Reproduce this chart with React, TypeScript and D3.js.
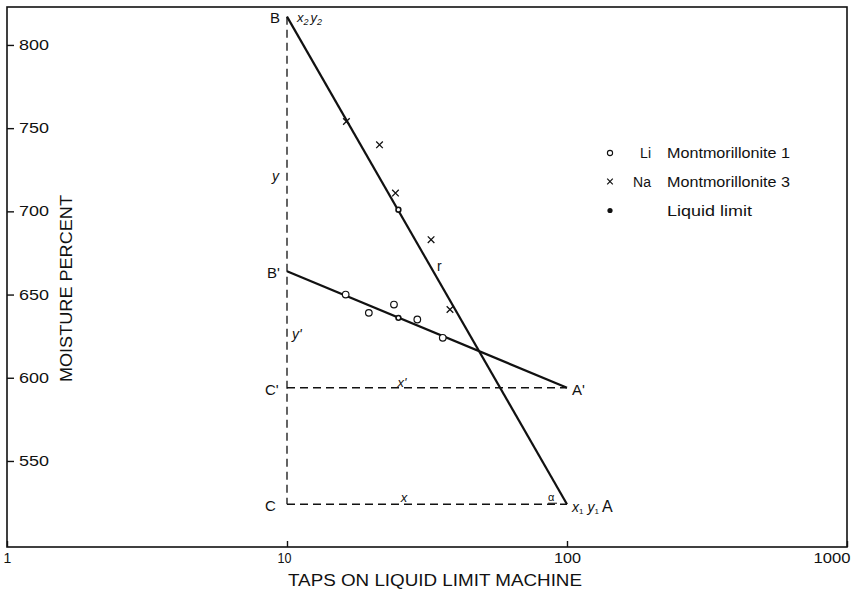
import React, { useEffect, useRef } from "react";
import * as d3 from "d3";

const W = 855;
const H = 592;

const xTicks = [1, 10, 100, 1000];
const yTicks = [550, 600, 650, 700, 750, 800];

// Li Montmorillonite 1 (open circles)
const liTaps = [16.2, 19.6, 24.1, 29.2, 36.0];
const liMoisture = [650, 639, 644, 635, 624];

// Na Montmorillonite 3 (crosses)
const naTaps = [16.3, 21.4, 24.4, 32.7, 38.2];
const naMoisture = [754, 740, 711, 683, 641];

// Liquid limit points (25 taps)
const liquidLimitTaps = [25, 25];
const liquidLimitMoisture = [701, 636];

// Flow lines
const naFlowTaps = [10, 100];
const naFlowMoisture = [817, 524];
const liFlowTaps = [10, 100];
const liFlowMoisture = [664, 594];

const legendSymbols = ["circle", "cross", "dot"];
const legendIons = ["Li", "Na", ""];
const legendNames = ["Montmorillonite 1", "Montmorillonite 3", "Liquid limit"];

const FONT = "'Liberation Sans', Arial, sans-serif";

export default function App() {
  const ref = useRef<SVGSVGElement>(null);

  useEffect(() => {
    const svg = d3.select(ref.current);
    svg.selectAll("*").remove();

    const x = d3.scaleLog().domain([1, 1000]).range([7, 847]);
    const y = d3.scaleLinear().domain([498.3, 822.8]).range([547, 7]);

    svg.append("rect").attr("width", W).attr("height", H).attr("fill", "white");

    // frame
    svg
      .append("rect")
      .attr("x", x(1))
      .attr("y", y(822.8))
      .attr("width", x(1000) - x(1))
      .attr("height", y(498.3) - y(822.8))
      .attr("fill", "none")
      .attr("stroke", "#111")
      .attr("stroke-width", 1.6);

    // y axis
    const yAxis = svg
      .append("g")
      .attr("transform", `translate(${x(1)},0)`)
      .call(d3.axisRight(y).tickValues(yTicks).tickSize(7).tickPadding(5).tickFormat(d3.format("d")));
    yAxis.select(".domain").remove();
    yAxis.selectAll("line").attr("stroke", "#111").attr("stroke-width", 1.4);
    yAxis
      .selectAll("text")
      .attr("font-family", FONT)
      .attr("font-size", 14)
      .attr("fill", "#111")
      .attr("textLength", 30)
      .attr("lengthAdjust", "spacingAndGlyphs");

    // x axis
    const xAxis = svg
      .append("g")
      .attr("transform", `translate(0,${y(498.3)})`)
      .call(d3.axisBottom(x).tickValues(xTicks).tickSize(-6).tickPadding(6).tickFormat(d3.format("d")));
    xAxis.select(".domain").remove();
    xAxis.selectAll("line").attr("stroke", "#111").attr("stroke-width", 1.4);
    xAxis
      .selectAll("text")
      .attr("font-family", FONT)
      .attr("font-size", 14)
      .attr("fill", "#111")
      .attr("text-anchor", (d: any) => (d === 1000 ? "end" : "middle"))
      .attr("dx", (d: any) => (d === 1000 ? 3 : d === 10 ? -3 : 0))
      .attr("textLength", (d: any) => (d === 1000 ? 37 : d === 100 ? 27 : d === 10 ? 14 : null))
      .attr("lengthAdjust", "spacingAndGlyphs");

    // axis titles
    svg
      .append("text")
      .attr("x", (x(10) + x(100)) / 2 + 8)
      .attr("y", 586)
      .attr("text-anchor", "middle")
      .attr("font-family", FONT)
      .attr("font-size", 16)
      .attr("fill", "#111")
      .attr("textLength", 294)
      .attr("lengthAdjust", "spacingAndGlyphs")
      .text("TAPS ON LIQUID LIMIT MACHINE");

    svg
      .append("text")
      .attr("transform", `translate(72,${y(650) - 6}) rotate(-90)`)
      .attr("text-anchor", "middle")
      .attr("font-family", FONT)
      .attr("font-size", 17)
      .attr("fill", "#111")
      .attr("textLength", 187)
      .attr("lengthAdjust", "spacingAndGlyphs")
      .text("MOISTURE PERCENT");

    // dashed construction lines
    const dashed = [
      [[naFlowTaps[0], naFlowMoisture[0]], [naFlowTaps[0], naFlowMoisture[1]]],
      [[naFlowTaps[0], naFlowMoisture[1]], [naFlowTaps[1], naFlowMoisture[1]]],
      [[liFlowTaps[0], liFlowMoisture[1]], [liFlowTaps[1], liFlowMoisture[1]]],
    ];
    const line = d3
      .line<number[]>()
      .x((d) => x(d[0]))
      .y((d) => y(d[1]));
    dashed.forEach((seg) => {
      svg
        .append("path")
        .attr("d", line(seg))
        .attr("fill", "none")
        .attr("stroke", "#111")
        .attr("stroke-width", 1.3)
        .attr("stroke-dasharray", "8,5");
    });

    // flow lines
    const flows = [
      naFlowTaps.map((t, i) => [t, naFlowMoisture[i]]),
      liFlowTaps.map((t, i) => [t, liFlowMoisture[i]]),
    ];
    flows.forEach((f) => {
      svg
        .append("path")
        .attr("d", line(f))
        .attr("fill", "none")
        .attr("stroke", "#111")
        .attr("stroke-width", 2.2);
    });

    // Li circles
    svg
      .append("g")
      .selectAll("circle")
      .data(liTaps.map((t, i) => [t, liMoisture[i]]))
      .join("circle")
      .attr("cx", (d) => x(d[0]))
      .attr("cy", (d) => y(d[1]))
      .attr("r", 3.3)
      .attr("fill", "white")
      .attr("stroke", "#111")
      .attr("stroke-width", 1.2);

    // Na crosses
    const s = 3.3;
    const crossG = svg.append("g");
    naTaps.forEach((t, i) => {
      const cx = x(t);
      const cy = y(naMoisture[i]);
      crossG
        .append("path")
        .attr("d", `M${cx - s},${cy - s}L${cx + s},${cy + s}M${cx - s},${cy + s}L${cx + s},${cy - s}`)
        .attr("stroke", "#111")
        .attr("stroke-width", 1.3)
        .attr("fill", "none");
    });

    // liquid limit points
    svg
      .append("g")
      .selectAll("circle")
      .data(liquidLimitTaps.map((t, i) => [t, liquidLimitMoisture[i]]))
      .join("circle")
      .attr("cx", (d) => x(d[0]))
      .attr("cy", (d) => y(d[1]))
      .attr("r", 2.4)
      .attr("fill", "white")
      .attr("stroke", "#111")
      .attr("stroke-width", 1.6);

    // annotation labels
    const lab = (tx: number, ty: number, txt: string, opts: any = {}) => {
      const t = svg
        .append("text")
        .attr("x", tx)
        .attr("y", ty)
        .attr("font-family", FONT)
        .attr("font-size", opts.size || 15)
        .attr("font-style", opts.italic ? "italic" : "normal")
        .attr("text-anchor", opts.anchor || "start")
        .attr("fill", "#111");
      if (opts.sub) {
        t.append("tspan").text(txt);
        t.append("tspan").attr("font-size", 9).attr("dy", 3).text(opts.sub);
        if (opts.txt2) {
          t.append("tspan").attr("dy", -3).attr("dx", 2).text(opts.txt2);
          t.append("tspan").attr("font-size", 9).attr("dy", 3).text(opts.sub);
        }
      } else {
        t.text(txt);
      }
      return t;
    };

    const xB = x(naFlowTaps[0]);
    lab(xB - 17, y(naFlowMoisture[0]) + 6, "B");
    lab(xB + 10, y(naFlowMoisture[0]) + 5, "x", { italic: true, size: 13, sub: "2", txt2: "y" });
    lab(xB - 15, 181, "y", { italic: true, size: 14 });
    lab(xB - 20, y(liFlowMoisture[0]) + 7, "B'");
    lab(xB + 5, 339, "y'", { italic: true, size: 14 });
    lab(xB - 22, y(liFlowMoisture[1]) + 7, "C'");
    lab(402, y(liFlowMoisture[1]) - 1, "x'", { italic: true, size: 13, anchor: "middle" });
    lab(x(liFlowTaps[1]) + 5, y(liFlowMoisture[1]) + 7, "A'");
    lab(437, 271, "r", { size: 14 });
    lab(xB - 22, y(naFlowMoisture[1]) + 7, "C");
    lab(404, y(naFlowMoisture[1]) - 2, "x", { italic: true, size: 13, anchor: "middle" });
    lab(548, y(naFlowMoisture[1]) - 3, "α", { size: 11 });
    svg
      .append("line")
      .attr("x1", 548)
      .attr("x2", 557)
      .attr("y1", y(naFlowMoisture[1]) - 1)
      .attr("y2", y(naFlowMoisture[1]) - 1)
      .attr("stroke", "#111")
      .attr("stroke-width", 1);
    const aLab = svg
      .append("text")
      .attr("x", x(naFlowTaps[1]) + 5)
      .attr("y", y(naFlowMoisture[1]) + 8)
      .attr("font-family", FONT)
      .attr("font-size", 14)
      .attr("fill", "#111");
    aLab.append("tspan").attr("font-style", "italic").text("x");
    aLab.append("tspan").attr("font-size", 8).attr("dy", 2).text("1");
    aLab.append("tspan").attr("font-style", "italic").attr("dy", -2).attr("dx", 4).text("y");
    aLab.append("tspan").attr("font-size", 8).attr("dy", 2).text("1");
    aLab.append("tspan").attr("dy", -2).attr("dx", 3).attr("font-size", 16).text("A");

    // legend
    const legendY = [153, 181.5, 210.5];
    legendSymbols.forEach((sym, i) => {
      const cy = legendY[i];
      const cx = 610;
      if (sym === "circle") {
        svg.append("circle").attr("cx", cx).attr("cy", cy).attr("r", 2.6).attr("fill", "white").attr("stroke", "#111").attr("stroke-width", 1.1);
      } else if (sym === "cross") {
        const k = 2.8;
        svg
          .append("path")
          .attr("d", `M${cx - k},${cy - k}L${cx + k},${cy + k}M${cx - k},${cy + k}L${cx + k},${cy - k}`)
          .attr("stroke", "#111")
          .attr("stroke-width", 1.2);
      } else {
        svg.append("circle").attr("cx", cx).attr("cy", cy).attr("r", 2.6).attr("fill", "#111");
      }
      if (legendIons[i]) {
        svg
          .append("text")
          .attr("x", 651)
          .attr("y", cy + 5)
          .attr("text-anchor", "end")
          .attr("font-family", FONT)
          .attr("font-size", 14)
          .attr("fill", "#111")
          .text(legendIons[i]);
      }
      svg
        .append("text")
        .attr("x", 667)
        .attr("y", cy + 5)
        .attr("font-family", FONT)
        .attr("font-size", 14)
        .attr("fill", "#111")
        .attr("textLength", i === 2 ? 85 : 123)
        .attr("lengthAdjust", "spacingAndGlyphs")
        .text(legendNames[i]);
    });
  }, []);

  return (
    <svg
      ref={ref}
      width={W}
      height={H}
      style={{ position: "absolute", left: 0, top: 0, display: "block" }}
    />
  );
}
